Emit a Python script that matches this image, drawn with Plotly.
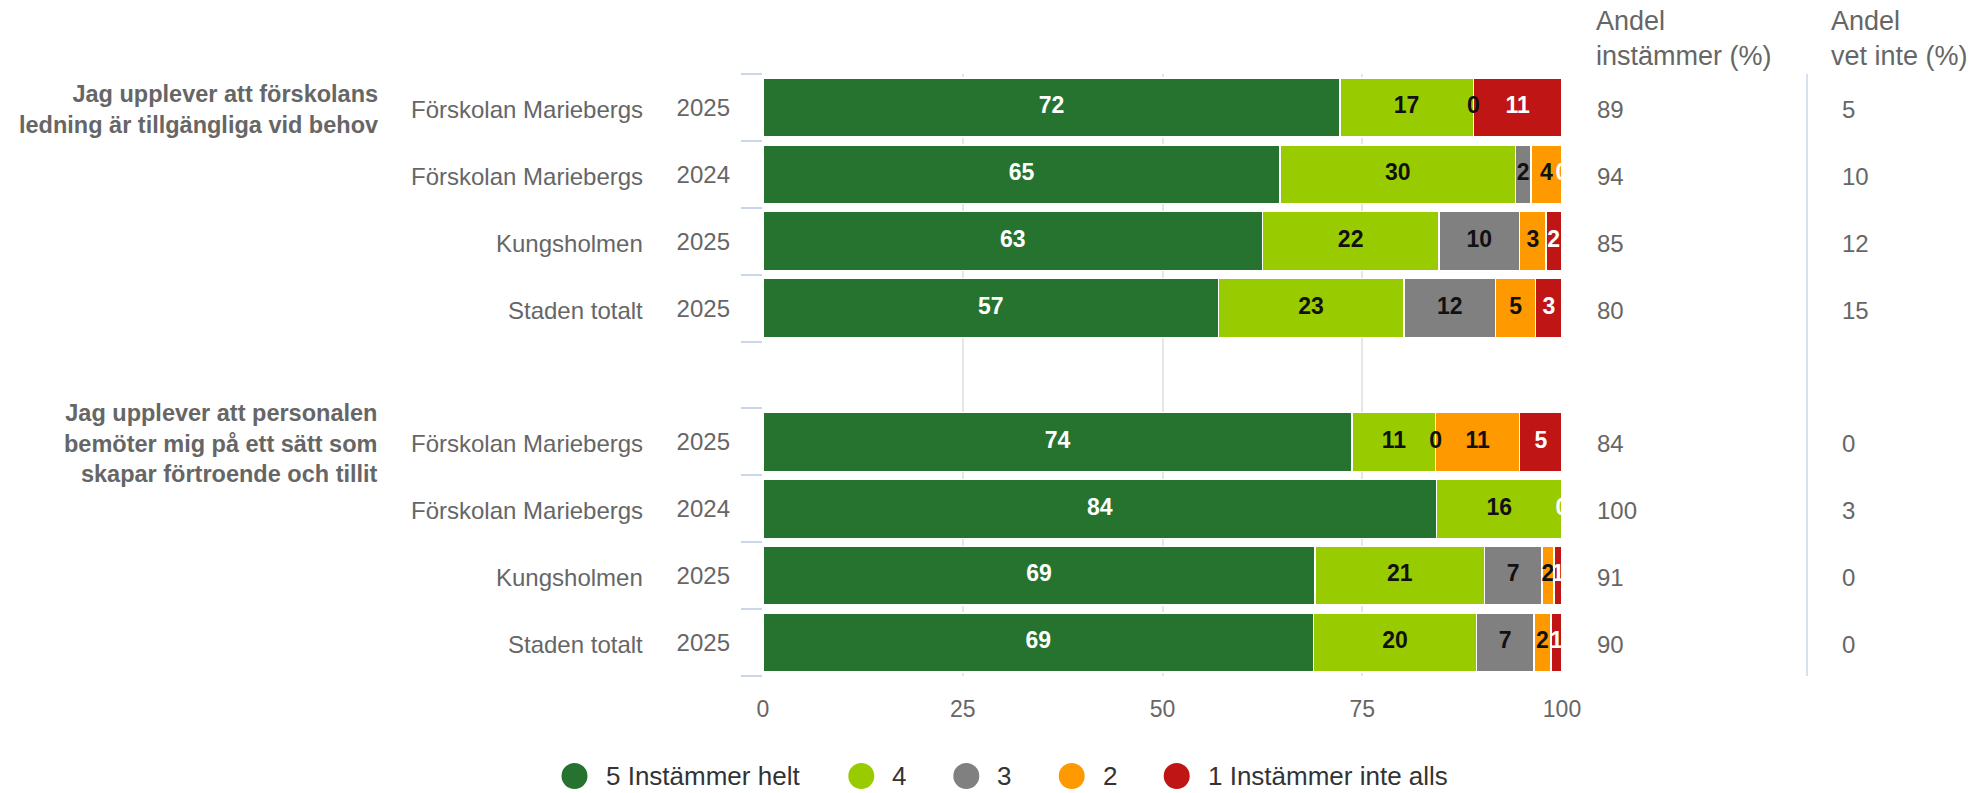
import math
import plotly.graph_objects as go

# ---------------- data ----------------
questions = [
    "Jag upplever att förskolans<br>ledning är tillgängliga vid behov",
    "Jag upplever att personalen<br>bemöter mig på ett sätt som<br>skapar förtroende och tillit",
]
entities = ["Förskolan Mariebergs", "Förskolan Mariebergs", "Kungsholmen", "Staden totalt"]
years = ["2025", "2024", "2025", "2025"]

series_names = ["5 Instämmer helt", "4", "3", "2", "1 Instämmer inte alls"]
series_colors = ["#267330", "#99CC00", "#808080", "#FF9900", "#BF1515"]
label_colors = ["#FFFFFF", "#111111", "#111111", "#111111", "#FFFFFF"]

# percent per answer, rows: Q1 (4 rows) then Q2 (4 rows)
s5 = [72.2, 64.7, 62.5, 57.0, 73.7, 84.3, 69.1, 68.9]
s4 = [16.7, 29.5, 22.1, 23.2, 10.5, 15.7, 21.2, 20.4]
s3 = [0.0, 1.9, 10.1, 11.5, 0.0, 0.0, 7.2, 7.2]
s2 = [0.0, 3.9, 3.3, 5.0, 10.5, 0.0, 1.5, 2.1]
s1 = [11.1, 0.0, 1.9, 3.3, 5.3, 0.0, 1.0, 1.4]

andel_instammer = [89, 94, 85, 80, 84, 100, 91, 90]
andel_vet_inte = [5, 10, 12, 15, 0, 3, 0, 0]

x_ticks = [0, 25, 50, 75, 100]

col_headers = ["Andel<br>instämmer (%)", "Andel<br>vet inte (%)"]

# ---------------- layout ----------------
FONT = "Liberation Sans, Arial, sans-serif"
GRAY = "#666666"
series = [s5, s4, s3, s2, s1]
n_per_group = len(entities)
row_y, row_entity, row_year = [], [], []
for g in range(len(questions)):
    for r in range(n_per_group):
        row_y.append(g * (n_per_group + 1) + r)
        row_entity.append(entities[r])
        row_year.append(years[r])
n_slots = max(row_y) + 1

W, H = 1972, 793
L, R, T, B = 763, 410, 74, 117
pw = W - L - R
ph = H - T - B
LEGEND_X = [574.5, 861.3, 966.3, 1071.7, 1176.7]   # circle centres (px)
LEGEND_Y = 776


def px(xp):
    return (xp - L) / pw


def py(yp):
    return (H - B - yp) / ph


def rnd(v):
    return int(math.floor(v + 0.5))


fig = go.Figure()

for i, vals in enumerate(series):
    fig.add_trace(go.Bar(
        x=vals, y=row_y, orientation="h", name=series_names[i],
        marker=dict(color=series_colors[i], line=dict(color="#FFFFFF", width=1.4)),
        showlegend=False, hoverinfo="x+name",
    ))

# value labels centred in each segment
starts = [0.0] * len(row_y)
for i, vals in enumerate(series):
    xs, texts = [], []
    for j, v in enumerate(vals):
        xs.append(starts[j] + v / 2)
        nxt = series[i + 1][j] if i + 1 < len(series) else None
        hide = (v == 0 and nxt is not None and nxt == 0)
        texts.append("" if hide else str(rnd(v)))
        starts[j] += v
    fig.add_trace(go.Scatter(
        x=xs, y=row_y, mode="text", text=texts,
        textfont=dict(family=FONT, size=23, color=label_colors[i], weight=700),
        textposition="middle center", showlegend=False, hoverinfo="skip",
    ))

annotations = []
shapes = []
for j, y in enumerate(row_y):
    annotations.append(dict(
        x=px(645), xref="paper", y=y, yref="y", text=row_entity[j],
        xanchor="right", yanchor="middle", showarrow=False, yshift=-2,
        font=dict(family=FONT, size=24, color=GRAY),
    ))
    annotations.append(dict(
        x=px(1595), xref="paper", y=y, yref="y", text=str(andel_instammer[j]),
        xanchor="left", yanchor="middle", showarrow=False, yshift=-2,
        font=dict(family=FONT, size=24, color=GRAY),
    ))
    annotations.append(dict(
        x=px(1840), xref="paper", y=y, yref="y", text=str(andel_vet_inte[j]),
        xanchor="left", yanchor="middle", showarrow=False, yshift=-2,
        font=dict(family=FONT, size=24, color=GRAY),
    ))

for g, q in enumerate(questions):
    annotations.append(dict(
        x=px(380), xref="paper", y=g * (n_per_group + 1), yref="y", text=q,
        xanchor="right", yanchor="middle", align="right", showarrow=False, yshift=-2,
        font=dict(family=FONT, size=23.5, color=GRAY, weight=700),
    ))

for xh, txt in zip([1594, 1829], col_headers):
    annotations.append(dict(
        x=px(xh), xref="paper", y=py(39), yref="paper", text=txt,
        xanchor="left", yanchor="middle", align="left", showarrow=False,
        font=dict(family=FONT, size=27, color=GRAY),
    ))

shapes.append(dict(
    type="line", xref="paper", yref="paper",
    x0=px(1807), x1=px(1807), y0=0, y1=1,
    line=dict(color="#ccd6eb", width=1.5),
))

# legend (circle + label per series)
for i, name in enumerate(series_names):
    shapes.append(dict(
        type="circle", xref="paper", yref="paper",
        xsizemode="pixel", ysizemode="pixel",
        xanchor=px(LEGEND_X[i]), yanchor=py(LEGEND_Y),
        x0=-13, x1=13, y0=-13, y1=13,
        fillcolor=series_colors[i], line=dict(width=0),
    ))
    annotations.append(dict(
        x=px(LEGEND_X[i] + 29), xref="paper", y=py(LEGEND_Y), yref="paper", text=name,
        xanchor="left", yanchor="middle", showarrow=False,
        font=dict(family=FONT, size=26, color="#333333"),
    ))

boundaries = [k - 0.5 for k in range(n_slots + 1)]

fig.update_layout(
    width=W, height=H,
    margin=dict(l=L, r=R, t=T, b=B, pad=0),
    barmode="stack", bargap=0.12,
    paper_bgcolor="#FFFFFF", plot_bgcolor="#FFFFFF",
    font=dict(family=FONT, size=23, color=GRAY),
    showlegend=False,
    xaxis=dict(
        range=[0, 100], tickvals=x_ticks, ticktext=[str(t) for t in x_ticks],
        showgrid=True, gridcolor="#e6e6e6", gridwidth=1.5, zeroline=False,
        showline=False, ticks="", ticklabelstandoff=17,
        tickfont=dict(family=FONT, size=23, color=GRAY), fixedrange=True,
    ),
    yaxis=dict(
        range=[n_slots - 0.5, -0.5], tickvals=row_y, ticktext=row_year,
        showgrid=False, zeroline=False, showline=False, ticks="",
        ticklabelstandoff=32,
        tickfont=dict(family=FONT, size=24, color=GRAY),
        minor=dict(tickvals=boundaries, ticks="outside", ticklen=21,
                   tickcolor="#ccd6eb", tickwidth=1.5, showgrid=False),
        fixedrange=True,
    ),
    annotations=annotations,
    shapes=shapes,
)

fig.write_html("out.html", config={"displayModeBar": False},
               post_script="document.body.style.margin='0px';")
